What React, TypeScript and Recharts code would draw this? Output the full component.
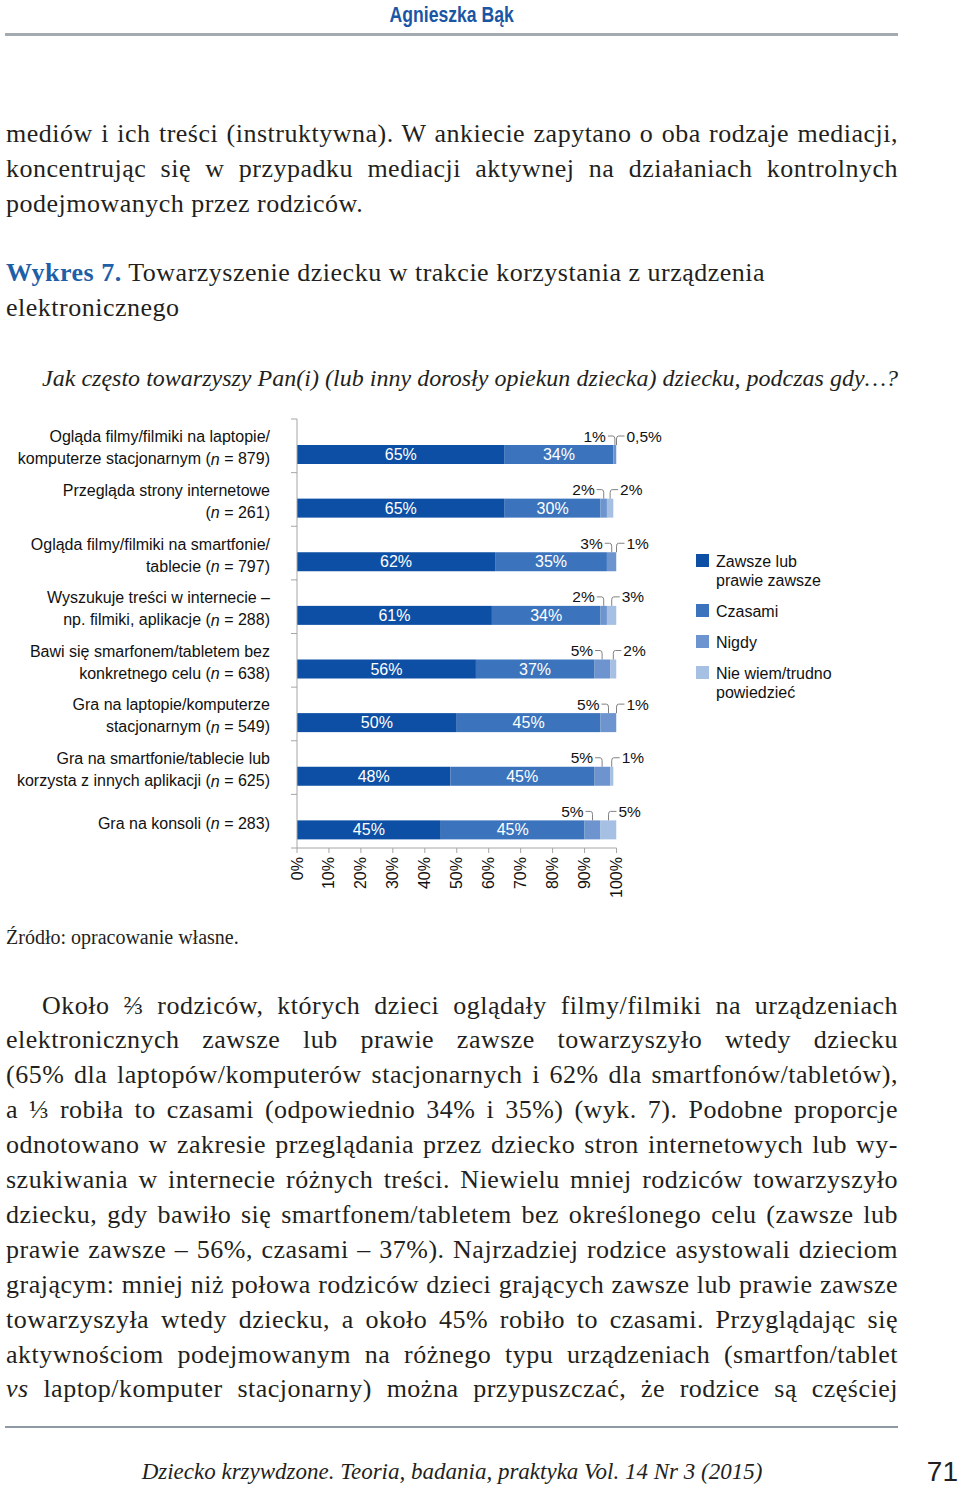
import React from 'react'
import { BarChart, Bar, XAxis, YAxis, Legend, LabelList } from 'recharts'

// chart data
const categoryLines = [
  ['Ogląda filmy/filmiki na laptopie/', 'komputerze stacjonarnym'],
  ['Przegląda strony internetowe', ''],
  ['Ogląda filmy/filmiki na smartfonie/', 'tablecie'],
  ['Wyszukuje treści w internecie –', 'np. filmiki, aplikacje'],
  ['Bawi się smarfonem/tabletem bez', 'konkretnego celu'],
  ['Gra na laptopie/komputerze', 'stacjonarnym'],
  ['Gra na smartfonie/tablecie lub', 'korzysta z innych aplikacji'],
  ['Gra na konsoli'],
]
const sampleSizes = [879, 261, 797, 288, 638, 549, 625, 283]
const always = [65, 65, 62, 61, 56, 50, 48, 45]
const sometimes = [34, 30, 35, 34, 37, 45, 45, 45]
const never = [1, 2, 3, 2, 5, 5, 5, 5]
const dontKnow = [0.5, 2, 1, 3, 2, 1, 1, 5]
const seriesNames = ['Zawsze lub prawie zawsze', 'Czasami', 'Nigdy', 'Nie wiem/trudno powiedzieć']
const xTicks = [0, 10, 20, 30, 40, 50, 60, 70, 80, 90, 100]

const data = categoryLines.map((lines, i) => ({
  name: lines.join(' '),
  always: always[i],
  sometimes: sometimes[i],
  never: never[i],
  dontKnow: dontKnow[i],
}))

const COLORS = ['#0d4fa5', '#3b74bd', '#6d94ce', '#a6c0e4']
const AXIS = '#a6a6a6'
const LEADER = '#808080'
const SANS = "'Liberation Sans', Arial, sans-serif"
const SERIF = "'Liberation Serif', 'Times New Roman', serif"
const TEXT = '#231f20'

const CHART_W = 960
const CHART_H = 510
const MARGIN = { top: 19, right: 343.5, bottom: 2, left: 0 }
const X_AXIS_H = 60
const BAND = (CHART_H - MARGIN.top - MARGIN.bottom - X_AXIS_H) / categoryLines.length
const BAR_SHIFT = 9

const fmt = (v: number) => String(v).replace('.', ',') + '%'

const box = (p: any) => {
  const vb = p.viewBox && p.viewBox.width !== undefined ? p.viewBox : p
  return { x: Number(vb.x), y: Number(vb.y), width: Number(vb.width), height: Number(vb.height) }
}

const makeShape = (color: string) => (p: any) => (
  <rect x={p.x} y={p.y + BAR_SHIFT} width={Math.max(0, p.width)} height={p.height} fill={color} />
)

const innerLabel = (p: any) => {
  const { x, y, width, height } = box(p)
  return (
    <text x={x + width / 2} y={y + height / 2 + BAR_SHIFT} fill="#fff" fontSize={16}
      fontFamily={SANS} textAnchor="middle" dominantBaseline="central">
      {fmt(p.value)}
    </text>
  )
}

const leftLeader = (p: any) => {
  const { x, y, width } = box(p)
  const cx = x + width / 2
  const top = y + BAR_SHIFT
  const ty = top - 9
  const tx = cx - 9
  return (
    <g>
      <text x={tx} y={ty} fontSize={15.5} fontFamily={SANS} fill="#111" textAnchor="end" dominantBaseline="central">
        {fmt(p.value)}
      </text>
      <path d={`M${tx + 2},${ty} H${cx - 2} Q${cx},${ty} ${cx},${ty + 3} V${top}`} stroke={LEADER} fill="none" />
    </g>
  )
}

const rightLeader = (p: any) => {
  const { x, y, width } = box(p)
  const cx = x + width / 2
  const top = y + BAR_SHIFT
  const ty = top - 9
  const tx = cx + 10
  return (
    <g>
      <text x={tx} y={ty} fontSize={15.5} fontFamily={SANS} fill="#111" textAnchor="start" dominantBaseline="central">
        {fmt(p.value)}
      </text>
      <path d={`M${cx},${top} V${ty + 3} Q${cx},${ty} ${cx + 2},${ty} H${tx - 2}`} stroke={LEADER} fill="none" />
    </g>
  )
}

const CategoryTick = (props: any) => {
  const { x, y } = props
  const index = props.index ?? props.payload?.index ?? 0
  const lines = categoryLines[index]
  const n = sampleSizes[index]
  const lh = 22
  const startY = y - ((lines.length - 1) * lh) / 2 + 2
  const axisX = x + 27
  return (
    <g>
      {lines.map((line, i) => {
        const last = i === lines.length - 1
        return (
          <text key={i} x={x} y={startY + i * lh} textAnchor="end" dominantBaseline="central"
            fontSize={16} fontFamily={SANS} fill="#111">
            {line}
            {last && (
              <>
                {line ? ' (' : '('}
                <tspan fontStyle="italic">n</tspan>
                {` = ${n})`}
              </>
            )}
          </text>
        )
      })}
      <line x1={axisX - 6} x2={axisX} y1={y + BAND / 2} y2={y + BAND / 2} stroke={AXIS} />
      {index === 0 && <line x1={axisX - 6} x2={axisX} y1={y - BAND / 2} y2={y - BAND / 2} stroke={AXIS} />}
    </g>
  )
}

const XTick = (props: any) => {
  const { x, y, payload } = props
  return (
    <text x={x} y={y} transform={`rotate(-90, ${x}, ${y})`} textAnchor="end" dominantBaseline="central"
      fontSize={16} fontFamily={SANS} fill="#111">
      {payload.value}%
    </text>
  )
}

const renderLegend = (props: any) => {
  const items = seriesNames.map((name, i) => {
    const found = (props.payload || []).find((e: any) => e.value === name)
    return { name, color: found?.color ?? COLORS[i] }
  })
  return (
    <div style={{ fontFamily: SANS, fontSize: 16, color: '#111' }}>
      {items.map((it) => (
        <div key={it.name} style={{ display: 'flex', alignItems: 'flex-start', marginBottom: 12, lineHeight: '19px' }}>
          <span style={{ width: 13, height: 13, background: it.color, marginTop: 2, marginRight: 7, flex: 'none' }} />
          <span style={{ width: 124 }}>{it.name}</span>
        </div>
      ))}
    </div>
  )
}

const line = (top: number, left: number, width: number, style: React.CSSProperties, content: React.ReactNode, justify = true) => (
  <div style={{
    position: 'absolute', top: top - 17.5, left, width, height: 35, lineHeight: '35px',
    fontFamily: SERIF, fontSize: 26, letterSpacing: 0.5, color: TEXT,
    textAlign: justify ? 'justify' : 'left', textAlignLast: justify ? 'justify' : 'left',
    ...style,
  }}>{content}</div>
)

const para2 = [
  'Około ⅔ rodziców, których dzieci oglądały filmy/filmiki na urządzeniach',
  'elektronicznych zawsze lub prawie zawsze towarzyszyło wtedy dziecku',
  '(65% dla laptopów/komputerów stacjonarnych i 62% dla smartfonów/tabletów),',
  'a ⅓ robiła to czasami (odpowiednio 34% i 35%) (wyk. 7). Podobne proporcje',
  'odnotowano w zakresie przeglądania przez dziecko stron internetowych lub wy-',
  'szukiwania w internecie różnych treści. Niewielu mniej rodziców towarzyszyło',
  'dziecku, gdy bawiło się smartfonem/tabletem bez określonego celu (zawsze lub',
  'prawie zawsze – 56%, czasami – 37%). Najrzadziej rodzice asystowali dzieciom',
  'grającym: mniej niż połowa rodziców dzieci grających zawsze lub prawie zawsze',
  'towarzyszyła wtedy dziecku, a około 45% robiło to czasami. Przyglądając się',
  'aktywnościom podejmowanym na różnego typu urządzeniach (smartfon/tablet',
]

export default function App() {
  return (
    <div style={{ position: 'absolute', left: 0, top: 0, width: 960, height: 1487, background: '#fff' }}>
      <div style={{ position: 'absolute', top: 2, left: 0, width: 904, textAlign: 'center' }}>
        <span style={{
          display: 'inline-block', transform: 'scaleX(0.8)',
          fontFamily: SANS, fontWeight: 'bold', fontSize: 22, lineHeight: '26px', color: '#1a56a4',
        }}>Agnieszka Bąk</span>
      </div>
      <div style={{ position: 'absolute', top: 33, left: 5, width: 893, height: 3, background: '#a3aab0' }} />

      {line(133, 6, 892, {}, 'mediów i ich treści (instruktywna). W ankiecie zapytano o oba rodzaje mediacji,')}
      {line(168, 6, 892, {}, 'koncentrując się w przypadku mediacji aktywnej na działaniach kontrolnych')}
      {line(203, 6, 892, {}, 'podejmowanych przez rodziców.', false)}

      {line(272, 6, 892, {}, <><span style={{ color: '#1f5fa8', fontWeight: 'bold' }}>Wykres 7.</span> Towarzyszenie dziecku w trakcie korzystania z urządzenia</>, false)}
      {line(307, 6, 892, {}, 'elektronicznego', false)}

      {line(378, 42, 856, { fontStyle: 'italic', fontSize: 24, letterSpacing: 0 }, 'Jak często towarzyszy Pan(i) (lub inny dorosły opiekun dziecka) dziecku, podczas gdy…?')}

      <div style={{ position: 'absolute', left: 0, top: 400 }}>
        <BarChart width={CHART_W} height={CHART_H} data={data} layout="vertical" margin={MARGIN}>
          <XAxis type="number" domain={[0, 100]} ticks={xTicks} allowDataOverflow interval={0}
            height={X_AXIS_H} tickSize={5} tickMargin={4} tick={XTick}
            axisLine={{ stroke: AXIS }} tickLine={{ stroke: AXIS }} />
          <YAxis type="category" dataKey="name" width={297} tickSize={6} tickMargin={21} interval={0}
            tickLine={false} axisLine={{ stroke: AXIS }} tick={CategoryTick} />
          <Legend layout="vertical" align="center" verticalAlign="middle" content={renderLegend}
            wrapperStyle={{ left: 696, top: 152, width: 200 }} />
          <Bar dataKey="always" name={seriesNames[0]} stackId="a" fill={COLORS[0]} barSize={19}
            shape={makeShape(COLORS[0])} isAnimationActive={false}>
            <LabelList dataKey="always" content={innerLabel} />
          </Bar>
          <Bar dataKey="sometimes" name={seriesNames[1]} stackId="a" fill={COLORS[1]} barSize={19}
            shape={makeShape(COLORS[1])} isAnimationActive={false}>
            <LabelList dataKey="sometimes" content={innerLabel} />
          </Bar>
          <Bar dataKey="never" name={seriesNames[2]} stackId="a" fill={COLORS[2]} barSize={19}
            shape={makeShape(COLORS[2])} isAnimationActive={false}>
            <LabelList dataKey="never" content={leftLeader} />
          </Bar>
          <Bar dataKey="dontKnow" name={seriesNames[3]} stackId="a" fill={COLORS[3]} barSize={19}
            shape={makeShape(COLORS[3])} isAnimationActive={false}>
            <LabelList dataKey="dontKnow" content={rightLeader} />
          </Bar>
        </BarChart>
      </div>

      <div style={{
        position: 'absolute', top: 925, left: 6, fontFamily: SERIF, fontSize: 20, lineHeight: '24px', color: TEXT,
      }}>Źródło: opracowanie własne.</div>

      {para2.map((t, i) => (
        <React.Fragment key={i}>
          {line(1005 + i * 34.9, i === 0 ? 42 : 6, i === 0 ? 856 : 892, {}, t)}
        </React.Fragment>
      ))}
      {line(1005 + 11 * 34.9, 6, 892, {}, <><i>vs</i> laptop/komputer stacjonarny) można przypuszczać, że rodzice są częściej</>)}

      <div style={{ position: 'absolute', top: 1426, left: 5, width: 893, height: 1.5, background: '#8d9aa6' }} />
      <div style={{
        position: 'absolute', top: 1456, left: 0, width: 904, textAlign: 'center',
        fontFamily: SERIF, fontStyle: 'italic', fontSize: 23, lineHeight: '32px', color: TEXT,
      }}>Dziecko krzywdzone. Teoria, badania, praktyka Vol. 14 Nr 3 (2015)</div>
      <div style={{
        position: 'absolute', top: 1454, right: 2, fontFamily: SANS, fontSize: 28, lineHeight: '36px', color: TEXT,
      }}>71</div>
    </div>
  )
}
